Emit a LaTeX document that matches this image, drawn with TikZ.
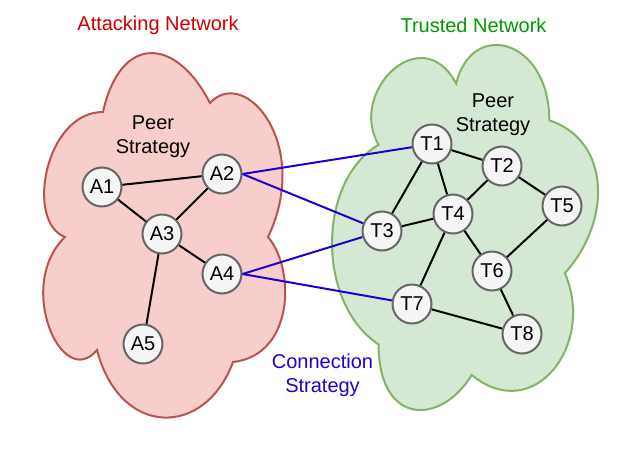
\documentclass[tikz,border=0pt]{standalone}
\usepackage{fontspec}
\setmainfont{Liberation Sans}
\definecolor{redfill}{HTML}{F8CECC}
\definecolor{redline}{HTML}{B85450}
\definecolor{greenfill}{HTML}{D5E8D4}
\definecolor{greenline}{HTML}{82B366}
\definecolor{nodefill}{HTML}{F5F5F5}
\definecolor{nodeline}{HTML}{666666}
\definecolor{redtext}{HTML}{CC0000}
\definecolor{greentext}{HTML}{009900}
\definecolor{bluelink}{HTML}{2000CC}
\tikzset{
  peer/.style={circle, draw=nodeline, fill=nodefill, line width=2pt, minimum size=39pt, inner sep=0pt, font=\fontsize{20}{24}\selectfont},
  lbl/.style={align=center, font=\fontsize{20}{24}\selectfont},
  link/.style={line width=2pt, black},
  cross/.style={line width=2pt, bluelink},
  cloudR/.style={draw=redline, fill=redfill, line width=2pt},
  cloudG/.style={draw=greenline, fill=greenfill, line width=2pt}
}
\begin{document}
\begin{tikzpicture}[x=1pt,y=-1pt]
\useasboundingbox (0,0) rectangle (634,453);
% left cloud
\draw[cloudR] (103,112) .. controls (45,112) and (25,222) .. (65,237)
  .. controls (15,285) and (62,392) .. (97,350)
  .. controls (120,438) and (205,438) .. (233,362)
  .. controls (295,355) and (295,268) .. (268,237)
  .. controls (312,145) and (245,65) .. (210,103)
  .. controls (175,35) and (120,35) .. (103,112) -- cycle;
% right cloud (standard cloud rotated)
\begin{scope}[shift={(626.9pt,-18.5pt)}, x={(0pt,-407.4pt)}, y={(-310.4pt,0pt)}]
\draw[cloudG] (.25,.25) .. controls (.05,.25) and (0,.5) .. (.16,.55)
  .. controls (0,.66) and (.18,.9) .. (.31,.8)
  .. controls (.4,1) and (.7,1) .. (.8,.8)
  .. controls (1,.8) and (1,.6) .. (.875,.5)
  .. controls (1,.3) and (.8,.1) .. (.625,.2)
  .. controls (.5,.05) and (.3,.05) .. (.25,.25) -- cycle;
\end{scope}
% titles
\node[lbl, text=redtext] (tA) at (158,25) {Attacking Network};
\node[lbl, text=greentext] (tT) at (473.5,25) {Trusted Network};
\node[lbl] (psA) at (153,137) {Peer\\Strategy};
\node[lbl] (psT) at (493,115) {Peer\\Strategy};
\node[lbl, text=bluelink] (cs) at (322.5,375) {Connection\\Strategy};
% attacking nodes
\node[peer] (A1) at (102,187) {A1};
\node[peer] (A2) at (222,174) {A2};
\node[peer] (A3) at (162,234) {A3};
\node[peer] (A4) at (222,274) {A4};
\node[peer] (A5) at (143,344) {A5};
% trusted nodes
\node[peer] (T1) at (432,144) {T1};
\node[peer] (T2) at (502,166) {T2};
\node[peer] (T3) at (382,231) {T3};
\node[peer] (T4) at (453,214) {T4};
\node[peer] (T5) at (562,206) {T5};
\node[peer] (T6) at (492,271) {T6};
\node[peer] (T7) at (412,304) {T7};
\node[peer] (T8) at (522,334) {T8};
% attacking links
\draw[link] (A1) -- (A2);
\draw[link] (A1) -- (A3);
\draw[link] (A2) -- (A3);
\draw[link] (A3) -- (A4);
\draw[link] (A3) -- (A5);
% trusted links
\draw[link] (T1) -- (T2);
\draw[link] (T1) -- (T3);
\draw[link] (T1) -- (T4);
\draw[link] (T2) -- (T4);
\draw[link] (T2) -- (T5);
\draw[link] (T3) -- (T4);
\draw[link] (T4) -- (T6);
\draw[link] (T4) -- (T7);
\draw[link] (T5) -- (T6);
\draw[link] (T6) -- (T8);
\draw[link] (T7) -- (T8);
% connection strategy links
\draw[cross] (A2.east) -- (T1);
\draw[cross] (A2.east) -- (T3);
\draw[cross] (A4.east) -- (T3);
\draw[cross] (A4.east) -- (T7);
\end{tikzpicture}
\end{document}
